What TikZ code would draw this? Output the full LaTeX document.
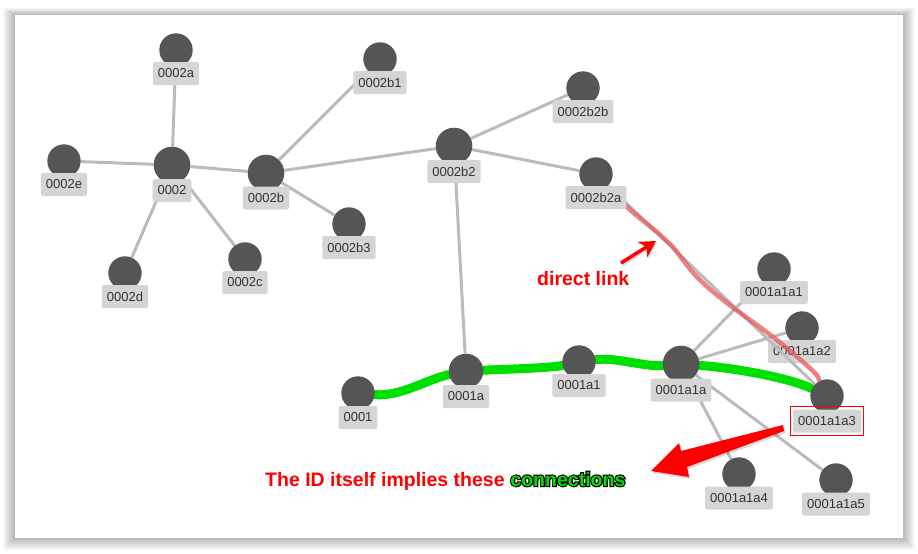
\documentclass[tikz,border=0pt]{standalone}
\usepackage{fontspec}
\setmainfont{Liberation Sans}
\newfontfamily\outlinefont[FakeBold=12]{Liberation Sans Bold}
\usetikzlibrary{arrows.meta,calc}
\pgfdeclarelayer{back}
\pgfdeclarelayer{edges}
\pgfsetlayers{back,edges,main}
\definecolor{nodegray}{HTML}{555555}
\definecolor{lblgray}{HTML}{D5D5D5}
\definecolor{lbltext}{HTML}{333333}
\definecolor{edgegray}{HTML}{BBBBBB}
\definecolor{idgreen}{HTML}{00E000}
\definecolor{linkred}{HTML}{E65858}
\definecolor{capred}{HTML}{FF0000}
\newcommand\capfont{\fontsize{19.5}{19.5}\selectfont\bfseries}
\tikzset{
  circ/.style={circle, fill=nodegray, draw=none, inner sep=0pt, minimum size=33.4pt},
  midc/.style={circ, minimum size=34.6pt},
  bigc/.style={circ, minimum size=36.6pt},
  lbl/.style={fill=lblgray, text=lbltext, inner xsep=5pt, inner ysep=0pt,
    minimum height=23pt, font=\fontsize{13}{13}\selectfont, rounded corners=1.5pt},
  edge/.style={draw=edgegray, line width=3pt},
  idlink/.style={draw=idgreen, line width=9pt, line cap=round},
  redlink/.style={draw=linkred, line width=4.5pt, opacity=0.75, line cap=round, line join=round},
  captext/.style={anchor=base west, inner sep=0pt, font=\capfont},
  redarrow/.style={line width=3.5pt, -{Stealth[length=16pt,width=18pt,inset=5pt]}},
}
\begin{document}
\begin{tikzpicture}[x=1pt,y=-1pt]
\useasboundingbox (0,0) rectangle (918,554);
\begin{pgfonlayer}{back}
  \fill[white] (0,0) rectangle (918,554);
  \foreach \i in {1,...,12}
    \fill[black,opacity=0.022] ({15-\i},{15-0.6*\i}) rectangle ({903+\i},{538+\i});
  \fill[white] (15,15) rectangle (903,538);
\end{pgfonlayer}

% circles
\node[circ] (n0002a) at (176,50) {};
\node[circ] (n0002b1) at (380,59) {};
\node[circ] (n0002e) at (64,161) {};
\node[bigc] (n0002) at (172,165) {};
\node[bigc] (n0002b) at (266,173) {};
\node[circ] (n0002b3) at (349,224) {};
\node[circ] (n0002c) at (245,259) {};
\node[circ] (n0002d) at (125,273) {};
\node[bigc] (n0002b2) at (454,146) {};
\node[circ] (n0002b2b) at (583,88) {};
\node[circ] (n0002b2a) at (596,174) {};
\node[circ] (n0001a1a1) at (774,269) {};
\node[circ] (n0001a1a2) at (802,328) {};
\node[circ] (n0001) at (358,393) {};
\node[midc] (n0001a) at (466,371) {};
\node[circ] (n0001a1) at (579,362) {};
\node[bigc] (n0001a1a) at (681,364) {};
\node[circ] (n0001a1a3) at (827,396) {};
\node[circ] (n0001a1a4) at (739,474) {};
\node[circ] (n0001a1a5) at (836,480) {};

\begin{pgfonlayer}{edges}
  \draw[edge] (n0002) -- (n0002a);
  \draw[edge] (n0002) -- (n0002e);
  \draw[edge] (n0002) -- (n0002b);
  \draw[edge] (n0002) -- (n0002c);
  \draw[edge] (n0002) -- (n0002d);
  \draw[edge] (n0002b) -- (n0002b1);
  \draw[edge] (n0002b) -- (n0002b2);
  \draw[edge] (n0002b) -- (n0002b3);
  \draw[edge] (n0002b2) -- (n0002b2b);
  \draw[edge] (n0002b2) -- (n0002b2a);
  \draw[edge] (n0002b2) -- (n0001a);
  \draw[edge] (n0001a1a) -- (n0001a1a1);
  \draw[edge] (n0001a1a) -- (n0001a1a2);
  \draw[edge] (n0001a1a) -- (n0001a1a4);
  \draw[edge] (n0001a1a) -- (n0001a1a5);
  \draw[idlink] (n0001) .. controls (400,397) and (428,379) .. (n0001a);
  \draw[idlink] (n0001a) .. controls (510,369) and (550,368) .. (n0001a1);
  \draw[idlink] (n0001a1) .. controls (615,357) and (645,367) .. (n0001a1a);
  \draw[idlink] (n0001a1a) .. controls (735,368) and (790,378) .. (n0001a1a3);
\end{pgfonlayer}

% labels
\node[lbl] (l0002a) at ($(n0002a)+(0,23.5)$) {0002a};
\node[lbl] (l0002b1) at ($(n0002b1)+(0,23.5)$) {0002b1};
\node[lbl] (l0002e) at ($(n0002e)+(0,23.5)$) {0002e};
\node[lbl] (l0002) at ($(n0002)+(0,25.5)$) {0002};
\node[lbl] (l0002b) at ($(n0002b)+(0,25)$) {0002b};
\node[lbl] (l0002b3) at ($(n0002b3)+(0,23.5)$) {0002b3};
\node[lbl] (l0002c) at ($(n0002c)+(0,23.5)$) {0002c};
\node[lbl] (l0002d) at ($(n0002d)+(0,23.5)$) {0002d};
\node[lbl] (l0002b2) at ($(n0002b2)+(0,25.5)$) {0002b2};
\node[lbl] (l0002b2b) at ($(n0002b2b)+(0,23.5)$) {0002b2b};
\node[lbl] (l0001a1a1) at ($(n0001a1a1)+(0,23.5)$) {0001a1a1};
\node[lbl] (l0001a1a2) at ($(n0001a1a2)+(0,23.5)$) {0001a1a2};
\node[lbl] (l0001) at ($(n0001)+(0,24.5)$) {0001};
\node[lbl] (l0001a) at ($(n0001a)+(0,25.5)$) {0001a};
\node[lbl] (l0001a1) at ($(n0001a1)+(0,23.5)$) {0001a1};
\node[lbl] (l0001a1a) at ($(n0001a1a)+(0,26)$) {0001a1a};
\node[lbl] (l0001a1a3) at ($(n0001a1a3)+(0,25)$) {0001a1a3};
\node[lbl] (l0001a1a4) at ($(n0001a1a4)+(0,24)$) {0001a1a4};
\node[lbl] (l0001a1a5) at ($(n0001a1a5)+(0,24)$) {0001a1a5};
\draw[capred, line width=1pt] ($(l0001a1a3.north west)+(-2.5,-2.5)$) rectangle ($(l0001a1a3.south east)+(2.5,2.5)$);

% direct link
\draw[edge] (n0002b2a) -- (n0001a1a3);
\draw[redlink] plot[smooth, tension=0.6] coordinates {(616,194) (628,208) (658,233) (672,246) (697,277) (727,303) (773,337) (812,370) (819,380)};
\node[lbl] (l0002b2a) at ($(n0002b2a)+(0,23.5)$) {0002b2a};

% small arrow and its text
\coordinate (dlt) at (621,263);
\coordinate (dlh) at (656,241);
\draw[black, opacity=0.15, redarrow] ($(dlt)+(1.2,1.5)$) -- ($(dlh)+(1.2,1.5)$);
\draw[capred, redarrow] (dlt) -- (dlh);
\node[captext, text=capred] (dl) at (537,285) {direct link};

% big arrow
\fill[black, opacity=0.15] (784.5,427) -- (682.5,453) -- (680.5,445) -- (652.5,473) -- (690.5,479) -- (688.5,469) -- (785.5,433) -- cycle;
\fill[capred] (783,425) -- (681,451) -- (679,443) -- (651,471) -- (689,477) -- (687,467) -- (784,431) -- cycle;

% caption
\node[captext, text=capred] (cap) at (265,486) {The ID itself implies these};
\coordinate (connpos) at ($(cap.base east)+(5.4,0)$);
\node[captext, text=black, font=\outlinefont\fontsize{19.5}{19.5}\selectfont] (connO) at (connpos) {connections};
\node[captext, text=idgreen] (conn) at (connpos) {connections};
\end{tikzpicture}
\end{document}
